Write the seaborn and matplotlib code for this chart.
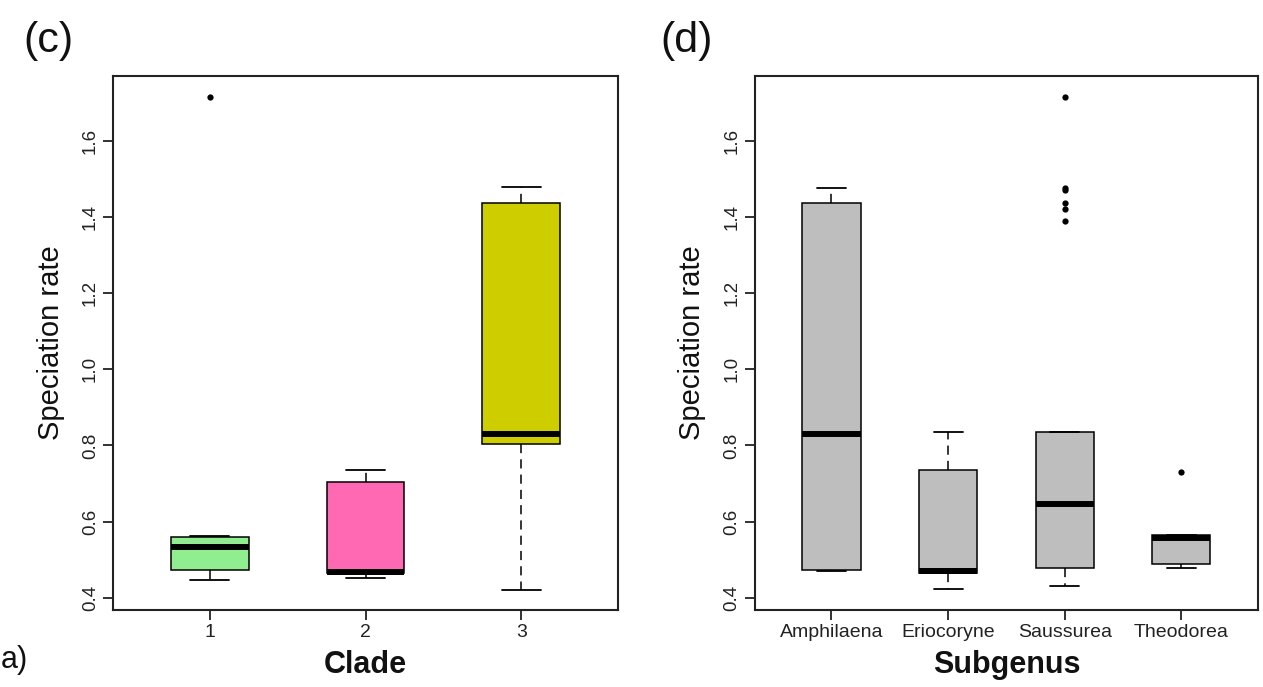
import matplotlib
matplotlib.use("Agg")
import matplotlib.pyplot as plt
import pandas as pd
import seaborn as sns

# ---- speciation rates grouped by clade ----
clade_labels = ["1", "2", "3"]
clade1_rates = [0.446, 0.473, 0.473, 0.532, 0.532, 0.559, 0.559, 0.562, 1.716]
clade2_rates = [0.4525, 0.465, 0.468, 0.703, 0.735]
clade3_rates = [0.420, 0.803, 0.830, 1.437, 1.478]
clade_colors = ["#90EE90", "#FF69B4", "#CDCD00"]

# ---- speciation rates grouped by subgenus ----
subgenus_labels = ["Amphilaena", "Eriocoryne", "Saussurea", "Theodorea"]
amphilaena_rates = [0.469, 0.474, 0.830, 1.437, 1.477]
eriocoryne_rates = [0.422, 0.466, 0.469, 0.736, 0.835]
saussurea_rates = [0.4315,
                   0.477, 0.477, 0.477, 0.477, 0.477, 0.477,
                   0.645, 0.645, 0.645, 0.645, 0.645, 0.645,
                   0.834, 0.834, 0.834, 0.834, 0.834, 0.834,
                   1.388, 1.421, 1.436, 1.471, 1.477, 1.715]
theodorea_rates = [0.4787, 0.489, 0.489, 0.5555, 0.5555,
                   0.5634, 0.5634, 0.5634, 0.731]
subgenus_color = "#BEBEBE"

y_ticks = [0.4, 0.6, 0.8, 1.0, 1.2, 1.4, 1.6]
y_tick_labels = ["0.4", "0.6", "0.8", "1.0", "1.2", "1.4", "1.6"]


def long_frame(labels, groups, name):
    rows = []
    for lab, vals in zip(labels, groups):
        rows += [(lab, v) for v in vals]
    return pd.DataFrame(rows, columns=[name, "rate"])


clade_df = long_frame(clade_labels,
                      [clade1_rates, clade2_rates, clade3_rates], "Clade")
subgenus_df = long_frame(subgenus_labels,
                         [amphilaena_rates, eriocoryne_rates,
                          saussurea_rates, theodorea_rates], "Subgenus")

sns.set_style("ticks")
plt.rcParams["font.family"] = ["Liberation Sans", "DejaVu Sans"]

W, H = 1263, 687
fig = plt.figure(figsize=(W / 100, H / 100), dpi=100)
fig.patch.set_facecolor("white")

ax_c = fig.add_axes([113 / W, 1 - 610 / H, 505 / W, 534 / H])
ax_d = fig.add_axes([754.5 / W, 1 - 610 / H, 503.8 / W, 534 / H])

box_kws = dict(
    y="rate", width=0.5, linecolor="black", linewidth=1.1,
    saturation=1, whis=1.5, legend=False,
    whiskerprops=dict(linestyle=(0, (6, 4)), linewidth=1.1),
    capprops=dict(linewidth=1.3),
    medianprops=dict(linewidth=4.3, color="black", solid_capstyle="butt"),
    flierprops=dict(marker="o", markersize=4.5, markerfacecolor="black",
                    markeredgecolor="black", markeredgewidth=0),
)

sns.boxplot(data=clade_df, x="Clade", hue="Clade", order=clade_labels,
            hue_order=clade_labels, palette=clade_colors, ax=ax_c, **box_kws)
sns.boxplot(data=subgenus_df, x="Subgenus", hue="Subgenus",
            order=subgenus_labels, hue_order=subgenus_labels,
            palette=[subgenus_color] * len(subgenus_labels), ax=ax_d,
            **box_kws)

for ax, n, xlabel, ylab_x in [(ax_c, 3, "Clade", -0.1228),
                              (ax_d, 4, "Subgenus", -0.1246)]:
    pad = 0.04 * n
    ax.set_xlim(-0.5 - pad, n - 0.5 + pad)
    ax.set_ylim(0.3677, 1.770)
    ax.set_yticks(y_ticks)
    ax.set_yticklabels(y_tick_labels, rotation=90, va="center")
    ax.tick_params(axis="y", labelsize=13.5, length=7, width=1.3,
                   pad=3, color="#222222", labelcolor="#222222")
    ax.tick_params(axis="x", labelsize=14, length=7, width=1.3,
                   pad=3, color="#222222", labelcolor="#222222")
    for side in ["left", "right", "top", "bottom"]:
        ax.spines[side].set_visible(True)
        ax.spines[side].set_linewidth(1.5)
        ax.spines[side].set_color("#222222")
    ax.set_xlabel(xlabel, fontsize=22, fontweight="bold", color="#111111")
    ax.xaxis.set_label_coords(0.5, -0.103)
    ax.xaxis.label.set_va("center")
    ax.set_ylabel("Speciation rate", fontsize=21, color="#111111")
    ax.yaxis.set_label_coords(ylab_x, 0.5)
    ax.yaxis.label.set_va("center")
    ax.set_facecolor("white")

fig.text(48 / W, 1 - 41 / H, "(c)", fontsize=31, ha="center", va="center",
         color="#111111")
fig.text(686.5 / W, 1 - 41 / H, "(d)", fontsize=31, ha="center", va="center",
         color="#111111")
fig.text(1 / W, 1 - 660 / H, "a)", fontsize=22, ha="left", va="center",
         color="#111111")

fig.savefig("out.png", dpi=100, facecolor="white")
